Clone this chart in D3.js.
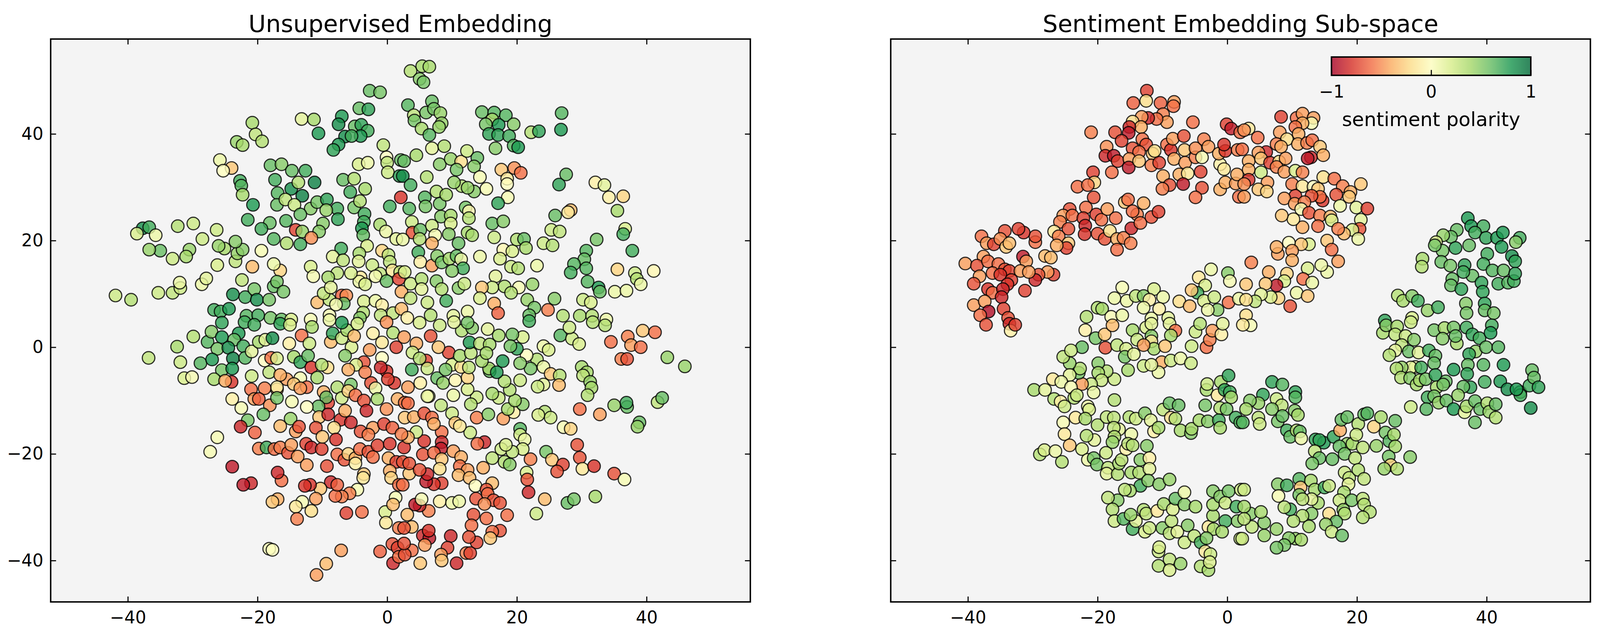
<!DOCTYPE html>
<html><head><meta charset="utf-8">
<script src="https://cdn.jsdelivr.net/npm/d3@7"></script>
<style>html,body{margin:0;padding:0;background:#fff;overflow:hidden;}svg{display:block;font-family:"DejaVu Sans",sans-serif;}</style>
</head><body><svg id="chart"></svg>
<script>
const titles = ["Unsupervised Embedding", "Sentiment Embedding Sub-space"];
const xTicks = [-40, -20, 0, 20, 40];
const yTicks = [-40, -20, 0, 20, 40];
const cbTicks = [-1, 0, 1];
const cbLabel = "sentiment polarity";
const rdYlGn = ["#a50026","#d73027","#f46d43","#fdae61","#fee08b","#ffffbf","#d9ef8b","#a6d96a","#66bd63","#1a9850","#006837"];

// [x, y, sentiment polarity]
const unsupervisedPoints = [
[-2.7,48.1,.6],[-1.1,47.8,.55],[-4.3,44.8,.6],[-2.9,44.6,.75],[-13.2,42.8,.15],[-11.3,42.7,.4],[-10.6,40.1,.8],[-7.0,43.3,.8],[-7.5,41.8,.85],[-5.0,41.4,.6],[-4.0,41.7,.75],[-3.0,40.6,.7],[-4.1,39.6,.8],[-6.5,39.5,.85],[-5.5,39.6,.7],[-7.5,38.0,.8],[-8.3,37.0,.75],[-20.8,42.1,.4],[-20.3,39.9,.3],[-19.3,38.6,.35],[-23.2,38.5,.45],[-22.3,37.9,.4],[-0.6,37.9,.3],[-0.1,35.6,0],[0,34.6,.3],[0.1,32.8,.25],[2.1,35.1,.6],[1.9,32.1,.75],[2.1,28.1,-.8],[-25.8,35.1,.1],[-24.0,33.6,-.3],[-25.3,33.1,0],[-18.0,34.1,.6],[-16.3,34.3,.5],[-14.7,33.1,.6],[-12.6,33.1,.7],[-17.3,31.4,.7],[-22.7,31.2,.7],[-22.5,30.3,.65],[-22.3,28.6,.4],[-20.7,26.7,.8],[-11.2,30.9,.9],[-14.8,29.7,.85],[-13.7,30.9,.35],[-13.1,28.4,.9],[-16.9,28.9,.65],[-17.0,26.7,.6],[-15.7,27.7,.3],[-14.3,26.7,.25],[-11.8,26.0,.5],[-10.8,27.2,.55],[-9.3,27.7,.75],[-7.7,26.0,.7],[-7.6,24.0,.75],[-9.4,25.7,.45],[-9.9,23.2,.5],[-10.5,21.7,.5],[-13.4,24.9,.6],[-15.6,23.7,.65],[-14.1,22.0,-.75],[-13.1,21.7,.45],[-11.7,20.5,-.5],[-13.4,19.3,.7],[-15.5,19.5,.35],[-17.5,20.3,.65],[-18.1,23.3,.6],[-19.4,22.2,.7],[-21.5,23.9,.7],[-6.8,31.4,.6],[-5.1,31.6,.35],[-4.4,34.3,.2],[-3.0,34.6,.1],[-3.4,29.7,.4],[-5.7,29.1,.7],[-5.1,26.2,.55],[-4.2,27.4,.35],[-3.5,25.0,.7],[-3.6,23.5,.7],[-3.9,22.3,.8],[-3.7,21.0,.6],[0.4,26.4,.7],[-1.1,23.0,.4],[-0.2,21.7,.1],[1.4,20.3,.15],[-3.1,19.0,.2],[-7.1,18.5,.7],[-8.4,17.0,.15],[-6.8,16.3,.3],[-4.3,17.6,.4],[-4.4,16.1,.15],[-0.8,18.1,-.25],[0.2,17.3,.3],[0.4,16.0,.3],[0.8,14.4,-.15],[2.0,14.1,.3],[-2.3,15.4,.25],[-1.1,13.8,.3],[-1.8,13.3,.05],[-0.1,12.4,.6],[1.8,12.8,-.75],[2.2,10.4,-.4],[-4.1,13.1,-.15],[-4.3,12.3,.1],[-3.4,11.8,.2],[-5.6,13.9,.2],[-7.7,13.9,.3],[-9.1,13.1,.4],[-11.8,15.1,.2],[-11.4,13.3,.05],[-16.5,14.4,-.25],[-17.5,15.6,.1],[-20.8,15.1,-.35],[-19.4,18.1,.05],[-22.4,12.6,.3],[-26.2,15.4,.2],[-23.4,16.1,.3],[-23.1,17.6,.45],[-22.3,18.3,.5],[-23.4,19.8,.5],[-25.1,18.5,.4],[-26.0,19.0,.45],[-26.3,22.0,.25],[-28.5,20.3,.25],[-30.5,18.3,.45],[-31.0,17.0,.4],[-33.1,16.6,.25],[-35.0,18.1,.6],[-36.7,18.3,.45],[-32.3,22.7,.35],[-29.9,23.2,.25],[-37.7,22.3,.85],[-36.7,22.5,.7],[-38.6,21.3,.2],[-35.7,21.0,.1],[-41.9,9.7,.25],[-39.5,8.9,.35],[-35.3,10.2,.25],[-33.1,10.2,.3],[-31.9,11.1,.25],[-32.0,12.1,.1],[-28.6,11.8,.1],[-27.9,12.9,.15],[-23.8,9.9,.85],[-21.9,9.4,.7],[-20.5,10.9,.55],[-20.1,8.9,.85],[-18.2,8.9,.55],[-17.5,11.4,.6],[-17.0,12.3,.55],[-16.0,10.4,.55],[-26.7,7.0,.7],[-25.7,6.7,.7],[-24.4,7.2,.8],[-21.7,5.9,.65],[-19.9,6.0,.7],[-18.0,5.5,.55],[-16.3,5.2,.6],[-14.8,5.2,.2],[-11.8,5.2,.05],[-10.8,8.4,-.35],[-8.9,6.0,.05],[-8.9,8.9,.3],[-9.8,10.1,.3],[-8.7,11.2,.15],[-7.0,9.7,-.65],[-6.3,9.7,-.5],[-6.7,8.2,.6],[-7.9,8.0,.05],[-3.6,8.6,.2],[-1.8,8.7,.1],[-0.8,7.9,-.1],[-3.7,6.5,.35],[-1.0,6.0,.3],[0.9,6.4,.3],[-4.2,5.5,.5],
[3.6,51.8,.35],[5.4,52.7,.4],[6.5,52.6,.4],[5.0,50.3,.5],[5.6,49.7,.55],[3.2,45.4,.65],[6.9,46.1,.6],[6.0,44.0,.55],[7.2,44.7,.55],[8.2,43.9,.45],[4.1,43.5,.3],[4.2,42.5,.55],[8.4,42.0,.45],[8.0,41.3,.45],[5.3,41.0,.4],[6.5,39.8,.65],[14.6,44.1,.6],[16.5,44.0,.65],[18.3,43.5,.65],[16.2,42.7,.4],[15.2,41.8,.55],[17.2,41.7,.8],[19.5,41.8,.5],[15.7,40.0,.75],[17.1,39.8,.75],[18.8,39.6,.7],[16.7,37.3,.5],[19.5,37.8,.65],[20.2,37.5,.8],[22.2,40.3,.35],[23.4,40.5,.75],[26.9,43.9,.65],[26.8,40.8,.8],[6.9,37.3,.15],[4.5,36.0,.4],[8.8,37.7,.35],[2.6,34.9,.6],[2.4,32.1,.85],[3.6,30.4,.7],[3.4,26.0,.65],[6.1,31.9,.35],[8.1,34.3,.5],[9.8,35.3,.45],[11.4,34.8,-.2],[12.3,36.8,.25],[13.9,35.5,.6],[13.4,33.9,.5],[10.7,33.3,.55],[14.3,31.9,.05],[15.3,29.7,.05],[11.5,30.2,.35],[13.4,29.2,.5],[12.4,29.9,.45],[10.3,30.9,.45],[17.6,33.3,-.3],[19.6,33.6,-.5],[20.6,32.7,-.6],[18.5,31.6,-.15],[18.5,30.6,0],[18.6,28.1,.05],[17.1,27.0,.75],[27.6,32.4,.6],[26.5,30.5,.75],[32.1,30.9,-.1],[33.5,30.4,.15],[34.2,28.1,-.1],[36.4,28.3,-.25],[35.5,25.6,.4],[28.3,25.7,-.35],[27.9,25.3,-.15],[25.9,24.7,.6],[5.8,28.1,.65],[5.9,26.4,.55],[7.6,29.2,.35],[8.1,26.9,.55],[9.1,28.6,.4],[8.3,24.5,.5],[9.8,24.7,.4],[9.8,23.2,.2],[12.1,26.2,.55],[12.6,25.5,-.05],[12.6,24.2,.35],[3.8,23.5,.25],[3.9,21.5,-.7],[5.1,22.0,.6],[6.9,22.8,.25],[7.4,21.0,.05],[2.4,20.2,.1],[5.0,20.3,.35],[6.9,19.5,-.4],[9.5,21.2,.5],[12.4,21.5,.4],[13.1,21.0,.4],[11.0,19.5,.6],[4.8,17.8,.7],[5.1,16.0,-.1],[6.9,15.3,-.45],[7.7,17.1,.5],[8.4,15.9,.55],[9.6,16.6,.4],[10.7,17.1,.6],[11.4,16.5,.1],[11.7,14.8,.7],[10.0,14.3,.5],[16.2,23.2,.6],[17.9,23.6,.5],[16.5,20.6,.25],[14.3,17.0,.1],[17.9,18.3,-.05],[17.4,16.6,.2],[19.3,18.0,.2],[20.0,20.2,.35],[21.1,20.3,.6],[21.4,18.6,.4],[24.1,19.5,.25],[25.5,19.1,.35],[25.3,22.0,.25],[26.6,21.7,.3],[23.1,15.3,.1],[19.1,15.1,.25],[20.2,14.8,.35],[16.7,13.3,.15],[22.4,11.8,.45],[20.3,11.2,.05],[18.1,11.4,.35],[16.2,11.2,.25],[14.6,11.2,-.3],[14.3,9.2,.2],[16.5,8.2,-.4],[17.1,6.4,-.65],[19.1,10.2,.35],[21.6,8.9,.45],[22.7,7.4,.55],[21.9,6.0,.6],[24.8,7.0,-.55],[25.8,9.1,.5],[27.1,5.9,.35],[29.7,5.9,.4],[31.6,5.9,.35],[33.8,5.2,.1],[30.2,8.9,.25],[31.4,8.4,.2],[32.6,11.2,.8],[32.8,10.4,.6],[30.9,12.3,.65],[30.7,18.1,.65],[30.4,16.5,.6],[30.7,14.8,.65],[28.8,15.6,.65],[28.3,14.0,.7],[32.3,20.2,.55],[36.7,22.2,.2],[36.4,21.2,.7],[37.8,18.1,.7],[35.5,14.6,-.25],[38.2,13.9,.25],[38.5,12.8,.35],[39.1,11.8,.1],[41.1,14.3,-.05],[35.1,10.4,.1],[36.9,10.6,.1],[2.7,14.1,.2],[3.6,11.9,.25],[5.3,12.8,.35],[5.3,10.9,.15],[7.6,12.4,.5],[8.4,10.9,.35],[11.0,11.1,.5],[11.9,11.9,.25],[9.1,8.7,.7],[6.2,8.4,.25],[3.6,9.2,.3],[2.2,7.2,-.35],[6.7,6.0,.35],[10.2,5.9,.15],[12.4,6.7,.1],[3.1,5.5,-.1],
[-36.8,-2.0,.3],[-32.4,0.1,.4],[-31.9,-2.8,.25],[-29.9,2.0,.35],[-31.3,-5.8,.2],[-30.1,-5.6,.05],[-28.8,-3.0,.65],[-27.7,1.0,.65],[-27.1,2.9,.5],[-25.5,1.9,.8],[-26.2,-0.3,.55],[-27.0,-2.3,.8],[-25.5,-4.3,.55],[-26.7,-6.0,.4],[-25.5,4.6,.75],[-22.9,2.6,.8],[-23.6,1.4,.6],[-24.5,-0.1,.85],[-23.8,-2.1,.9],[-23.9,-4.0,.8],[-22.2,0.2,.7],[-21.9,-2.0,.65],[-24.0,-6.5,-.8],[-25.0,-6.3,-.4],[-22.0,4.7,.7],[-20.5,4.2,.7],[-20.9,-0.8,.15],[-19.8,1.0,.4],[-18.8,1.4,.15],[-18.9,-2.5,0],[-17.7,1.7,.85],[-17.9,-2.0,-.6],[-18.2,-4.7,.3],[-20.9,-5.4,.25],[-17.0,-2.1,.2],[-16.5,4.4,.75],[-15.0,4.2,.2],[-15.1,0.7,-.1],[-14.4,-1.8,.4],[-13.4,-2.8,.75],[-13.2,2.2,-.6],[-12.0,0.7,.25],[-12.2,-1.6,.6],[-11.6,3.8,.4],[-11.7,-3.8,-.8],[-15.5,-6.0,-.45],[-16.5,-5.2,-.4],[-17.0,-7.9,-.4],[-13.4,-5.8,.05],[-14.4,-6.9,-.3],[-12.4,-7.5,-.6],[-13.4,-7.7,-.45],[-10.8,-5.7,.4],[-9.2,-3.8,-.2],[-10.1,-3.3,.35],[-8.7,1.0,-.35],[-8.4,2.6,.75],[-7.0,1.7,.25],[-6.2,3.2,.4],[-5.5,0.0,.2],[-6.5,-1.6,.5],[-5.1,2.1,-.35],[-7.0,4.6,.8],[-4.6,4.4,.2],[-8.9,5.1,.1],[-2.2,2.6,-.1],[-2.7,-0.5,-.45],[-0.8,0.9,-.15],[-0.1,4.7,-.5],[0.9,2.7,.35],[1.4,0.0,-.75],[-0.8,-2.0,0],[-0.1,-4.5,-.8],[-1.0,-3.8,-.85],[-3.6,-2.8,-.7],[-4.8,-3.3,.2],[-6.0,-4.2,-.4],[-3.4,-4.7,-.55],[-2.5,-6.7,-.7],[-1.8,-7.7,.1],[-1.5,-9.7,.4],[1.1,-6.7,-.8],[1.6,-9.7,-.4],[0.1,-6.0,-.75],[-7.7,-7.5,.35],[-7.0,-9.5,.25],[-5.6,-7.0,.55],[-6.0,-8.2,-.25],[-4.9,-9.0,-.6],[-3.6,-10.0,-.7],[-9.8,-8.4,-.4],[-9.1,-10.4,-.75],[-9.4,-9.4,.6],[-10.6,-11.1,.6],[-7.2,-13.6,-.8],[-6.5,-11.9,-.4],[-5.6,-14.1,-.85],[-4.1,-15.8,-.7],[-3.2,-11.9,-.85],[-2.2,-15.1,-.45],[-0.5,-14.4,-.75],[0.8,-15.1,-.65],[-0.1,-11.6,-.5],[-10.5,-13.1,-.3],[-9.1,-12.6,-.85],[-8.2,-15.1,-.2],[-11.0,-15.1,-.7],[-12.4,-11.2,0],[-14.7,-10.2,.05],[-14.9,-13.4,.45],[-14.1,-15.8,-.45],[-13.6,-14.9,-.7],[-16.5,-14.8,-.35],[-18.1,-10.9,-.5],[-19.1,-12.6,.6],[-17.0,-7.5,-.1],[-17.0,-9.5,.55],[-21.5,-13.7,.55],[-18.9,-7.7,-.55],[-21.0,-7.9,-.6],[-20.5,-9.7,-.45],[-19.8,-9.7,-.65],[-23.9,-9.7,-.1],[-22.5,-11.4,.05],[-22.6,-14.9,-.85],[-20.4,-16.0,-.65],[-26.2,-16.9,.05],[-27.3,-19.6,.05],[-19.8,-19.0,-.55],[-18.6,-18.8,.7],[-17.4,-19.1,-.6],[-16.5,-18.8,-.55],[-15.3,-19.8,-.7],[-14.8,-18.3,-.45],[-13.8,-20.5,-.45],[-12.5,-18.1,-.75],[-11.7,-18.8,-.85],[-10.1,-19.1,-.75],[-12.4,-22.1,-.45],[-9.3,-22.3,-.7],[-10.0,-16.8,-.3],[-7.9,-17.3,-.8],[-7.7,-20.1,-.6],[-6.6,-21.1,-.7],[-6.0,-20.0,-.25],[-4.9,-20.8,-.4],[-4.2,-19.1,-.6],[-4.9,-21.8,-.1],[-2.9,-19.6,-.7],[-2.2,-20.6,-.6],[-1.5,-18.4,-.75],[-2.9,-16.4,-.55],[0.4,-18.1,-.8],[0.2,-20.8,-.4],[1.4,-21.5,-.75],[-3.6,-23.8,-.3],[0.4,-23.2,-.4],[0.6,-24.5,-.25],[1.8,-25.8,-.6],[-3.7,-24.5,-.15],[-4.6,-26.7,.05],[-5.8,-27.4,-.55],[-7.0,-28.0,-.55],[-8.0,-27.9,-.6],[-8.7,-25.3,-.85],[-7.7,-25.8,-.65],[-10.3,-26.5,-.3],[-11.0,-28.4,-.45],[-11.9,-25.8,-.8],[-12.7,-26.0,-.8],[-13.1,-29.0,.05],[-14.1,-29.9,-.15],[-11.7,-30.7,-.2],[-13.9,-32.2,-.55],[-16.9,-28.5,-.4],[-17.7,-29.0,-.3],[-16.3,-25.0,-.6],[-16.9,-23.5,-.85],[-21.0,-25.5,-.85],[-22.2,-25.8,-.9],[-23.9,-22.4,-.9],[-6.3,-31.1,-.75],[-3.9,-30.9,-.6],[-0.3,-30.9,.2],[-0.2,-32.9,-.15],[1.3,-28.2,.05],[0.9,-29.5,-.35],[1.8,-33.9,-.55],[-18.2,-37.8,.05],[-17.7,-38.0,0],[-7.1,-38.1,-.45],[-9.4,-40.6,-.35],[-10.9,-42.7,-.45],[-1.1,-38.3,-.65],[0.9,-40.5,-.85],[0.8,-36.9,-.7],[1.6,-37.6,-.75],[1.8,-39.3,-.6],
[39.4,3.1,-.3],[41.3,2.8,-.6],[34.5,1.0,-.6],[37.1,2.0,-.55],[37.6,0.4,-.45],[39.1,0.0,-.6],[36.1,-2.2,-.55],[37.0,-2.2,-.7],[43.2,-1.9,.45],[45.9,-3.6,.45],[26.7,2.2,.65],[28.5,1.6,.25],[29.6,0.6,.2],[33.6,4.1,.35],[31.7,4.7,.35],[28.1,3.7,.25],[24.1,0.2,.1],[24.9,-0.5,.2],[23.1,-2.3,.35],[24.1,-3.7,.1],[22.1,-4.0,.55],[21.5,-1.5,0],[20.9,1.9,.2],[19.3,2.4,.55],[20.0,-0.3,.75],[17.8,-2.6,.8],[20.5,-3.0,.5],[25.2,-5.0,-.3],[26.6,-5.3,.35],[26.5,-7.1,-.35],[24.1,-7.0,.15],[23.2,-7.4,.25],[20.5,-6.2,.25],[30.0,-3.7,.4],[30.8,-4.7,.4],[30.2,-5.3,.3],[31.3,-6.5,.45],[31.5,-7.6,.4],[30.9,-9.0,.35],[29.7,-11.6,-.6],[32.8,-12.6,-.45],[35.0,-10.9,.45],[37.0,-11.2,.6],[36.9,-10.4,.7],[41.7,-10.3,.3],[42.4,-9.5,.6],[38.9,-14.1,.6],[38.6,-14.9,.45],[24.3,-12.1,.35],[25.2,-13.2,.25],[23.3,-12.7,.2],[27.2,-15.0,.05],[28.3,-15.3,-.25],[20.5,-15.3,.65],[20.5,-16.4,.2],[21.2,-17.3,.1],[20.9,-19.1,.2],[22.1,-21.0,-.55],[24.5,-19.6,.55],[25.4,-21.1,-.3],[27.1,-22.0,-.75],[26.2,-23.3,-.7],[29.3,-18.3,-.7],[29.7,-20.7,-.7],[30.1,-22.8,-.15],[31.9,-22.3,-.8],[35.0,-23.7,-.7],[36.6,-24.8,.05],[21.5,-23.5,.2],[21.6,-24.8,-.7],[21.8,-27.2,-.85],[24.3,-28.5,-.35],[27.8,-29.2,.6],[28.8,-28.5,.55],[32.1,-28.0,.4],[23.0,-31.2,.25],[16.2,-20.8,.3],[18.1,-21.5,.35],[18.9,-22.0,.5],[17.6,-19.1,.25],[19.3,-19.6,.3],[18.3,-18.3,.2],[15.0,-17.8,-.85],[13.9,-18.1,-.6],[14.8,-22.6,-.4],[16.2,-25.5,-.35],[12.8,-16.0,.25],[13.8,-13.2,-.55],[15.6,-12.6,.5],[17.9,-13.4,-.45],[19.5,-12.2,-.1],[18.6,-11.6,.4],[20.9,-10.7,.5],[19.7,-10.0,.4],[18.9,-8.0,.35],[17.2,-9.5,.25],[16.2,-8.7,.4],[18.1,-6.4,.35],[15.8,-4.5,.6],[15.7,-4.0,.4],[16.9,-4.7,.8],[14.6,-2.6,.4],[13.8,-9.4,.25],[12.9,-10.7,.35],[12.4,-7.9,.2],[10.2,-9.0,.1],[8.3,-10.9,.3],[6.4,-9.2,.05],[10.0,-12.4,.25],[10.5,-14.2,-.3],[11.2,-14.8,-.15],[8.4,-15.9,-.6],[8.4,-17.8,-.85],[8.3,-19.0,-.9],[5.7,-17.6,-.8],[4.5,-15.9,.25],[5.5,-20.1,-.7],[7.2,-19.8,-.6],[8.4,-21.0,-.3],[10.2,-19.5,-.45],[11.4,-20.6,-.4],[11.2,-22.3,-.6],[12.4,-23.0,-.45],[11.0,-24.0,-.35],[12.7,-24.5,-.35],[13.6,-26.0,0],[15.3,-26.7,-.7],[15.5,-27.5,-.6],[16.4,-28.7,-.7],[17.4,-29.2,-.7],[13.7,-28.4,-.7],[15.0,-29.4,-.5],[18.5,-31.5,-.6],[15.3,-32.1,-.6],[13.3,-31.4,-.7],[13.0,-33.4,-.6],[17.4,-34.4,-.7],[16.2,-34.6,-.6],[15.9,-35.8,-.3],[13.8,-36.6,-.75],[12.6,-35.6,-.7],[12.2,-38.6,-.55],[12.8,-38.6,-.75],[9.8,-35.4,-.85],[9.3,-37.6,-.75],[8.3,-38.9,-.45],[8.4,-40.0,-.3],[10.7,-40.5,-.85],[5.1,-40.5,-.3],[5.5,-35.3,-.85],[6.5,-35.8,-.9],[5.8,-37.1,-.45],[6.4,-34.4,-.8],[3.8,-38.1,-.6],[2.7,-38.9,-.7],[2.6,-36.8,-.7],[3.8,-33.7,-.35],[2.6,-33.9,-.7],[6.4,-30.7,-.55],[5.0,-29.7,-.85],[4.3,-29.5,-.9],[5.3,-28.5,.05],[3.1,-31.4,-.35],[8.1,-28.9,-.1],[10.0,-29.2,.1],[11.1,-28.9,.1],[8.4,-25.5,-.75],[7.2,-25.7,-.8],[6.0,-25.2,-.9],[6.2,-23.8,-.85],[8.1,-22.8,-.2],[3.4,-23.7,-.3],[2.4,-25.8,-.6],[2.4,-21.5,-.7],[3.4,-21.8,-.7],[5.0,-23.0,-.7],[2.6,-18.8,-.8],[3.2,-16.9,-.4],[2.2,-16.3,-.55],[2.7,-13.2,-.3],[4.1,-13.1,-.4],[5.7,-12.4,-.7],[6.9,-13.2,-.6],[7.2,-14.4,-.4],[2.7,-10.4,-.6],[3.2,-10.5,-.6],[6.2,-9.2,.1],[3.2,-7.5,-.45],[5.1,-6.7,-.1],[7.7,-5.8,.6],[8.6,-6.7,.45],[10.5,-6.2,-.05],[12.4,-5.7,-.25],[10.0,-3.3,.2],[9.0,-4.2,.55],[11.4,-3.7,-.2],[12.6,-3.8,.3],[3.8,-4.2,.7],[6.0,-2.5,-.75],[6.2,-4.0,.25],[9.5,-1.0,-.75],[7.9,0.0,-.3],[6.7,2.1,-.7],[4.5,0.7,-.4],[2.6,1.9,-.45],[3.9,-1.0,.25],[5.0,-2.1,.35],[11.2,-1.6,.4],[12.9,-1.1,.3],[12.7,0.9,.8],[14.3,0.7,.3],[15.8,0.5,.4],[11.5,3.1,.35],[13.1,3.6,.5],[15.5,3.4,.15],[17.2,2.2,.4],[19.0,0.2,.55],[15.3,-1.1,.4],[12.4,4.6,.55],[10.3,4.7,.15],[8.1,4.1,.25],[5.0,4.6,.2],[21.9,4.9,.7]
];

const sentimentPoints = [
[-12.4,48.1,-.75],[-12.5,46.2,-.2],[-14.5,45.8,-.65],[-10.3,45.8,-.65],[-8.2,46.0,-.45],[-8.3,45.2,-.6],[-9.9,43.7,-.55],[-9.3,42.2,-.45],[-10.9,42.8,-.6],[-12.2,43.0,-.85],[-13.2,43.2,-.45],[-14.6,42.3,-.2],[-13.3,41.3,-.4],[-15.1,41.3,-.85],[-15.2,40.2,-.9],[-17.3,40.3,-.7],[-16.3,38.7,-.75],[-13.1,39.0,-.6],[-12.5,38.0,-.7],[-14.6,37.3,-.7],[-13.6,36.6,-.6],[-18.6,37.6,-.5],[-18.8,35.9,-.85],[-17.5,35.9,-.9],[-16.9,34.9,-.75],[-15.1,35.3,-.45],[-15.2,33.7,-.9],[-13.6,34.9,-.3],[-17.8,32.8,-.6],[-21.0,40.3,-.55],[-11.5,36.3,-.3],[-11.7,34.1,-.55],[-10.5,34.6,-.75],[-11.2,36.8,-.2],[-9.3,38.0,-.6],[-8.7,37.0,-.8],[-8.4,39.1,-.45],[-6.7,39.6,-.7],[-6.6,37.0,-.3],[-8.2,35.3,-.4],[-6.5,34.6,-.45],[-4.9,35.6,-.55],[-4.9,37.3,-.5],[-3.6,39.0,-.55],[-2.9,37.6,-.45],[-3.9,35.6,.05],[-5.3,42.2,-.6],[-4.1,32.9,-.75],[-7.4,32.4,-.4],[-6.1,32.6,-.15],[-9.9,32.1,-.4],[-8.9,30.4,-.7],[-10.0,29.7,-.55],[-6.8,30.6,-.9],[-3.9,29.9,-.7],[-4.9,28.1,-.6],[-1.1,29.6,-.4],[-0.3,30.9,-.4],[1.3,30.7,-.45],[1.8,28.2,-.6],[1.5,32.4,-.4],[-1.1,34.3,-.1],[-0.5,33.4,-.15],[-1.3,36.3,-.4],[-0.3,36.8,-.8],[-0.1,41.8,-.75],[0.6,41.0,-.9],[2.0,40.3,-.6],[1.6,37.0,-.55],[-0.5,38.0,-.8],[-20.7,32.8,-.75],[-20.5,30.9,-.25],[-23.1,30.1,-.6],[-21.5,30.4,-.6],[-20.6,28.1,-.7],[-21.8,26.2,-.6],[-24.3,25.9,-.7],[-25.3,24.7,-.45],[-23.9,24.7,-.6],[-25.8,23.5,-.55],[-24.5,22.2,-.7],[-22.2,24.2,-.75],[-21.9,22.8,-.85],[-22.0,21.2,-.8],[-20.2,24.9,-.75],[-19.4,23.9,-.6],[-20.0,21.3,-.7],[-18.9,20.3,-.7],[-18.5,25.9,-.45],[-17.2,24.2,-.6],[-18.1,21.8,-.2],[-17.0,20.3,-.4],[-16.0,20.5,-.55],[-17.0,18.3,-.6],[-14.9,19.5,-.55],[-14.8,22.3,-.85],[-15.8,27.2,-.3],[-15.3,27.7,-.6],[-12.9,27.0,-.4],[-13.9,24.9,-.55],[-13.4,23.3,-.6],[-14.6,25.5,-.6],[-11.7,24.4,-.7],[-10.6,25.4,-.75],[-26.7,21.7,-.15],[-26.0,20.8,-.55],[-24.5,19.5,-.3],[-24.8,18.6,-.75],[-26.3,19.1,-.4],[-28.1,17.1,-.35],[-27.2,16.8,-.35],[-26.8,13.6,-.75],[-27.7,14.1,-.45],[-29.1,13.6,-.7],[-29.6,12.6,-.85],[-29.6,19.7,-.6],[-29.6,20.8,-.7],[-31.4,21.5,-.8],[-32.2,22.2,-.75],[-34.3,21.8,-.7],[-37.9,20.8,-.6],[-37.1,19.5,-.45],[-36.0,19.3,-.75],[-35.0,20.3,-.5],[-34.1,18.8,-.3],[-33.6,19.5,-.35],[-31.5,17.0,-.9],[-31.0,16.1,-.45],[-40.4,15.7,-.45],[-37.6,17.0,-.45],[-38.6,15.3,-.7],[-36.9,16.1,-.6],[-35.3,15.6,-.6],[-34.3,14.6,-.7],[-33.6,14.3,-.75],[-36.2,13.9,-.6],[-35.0,13.6,-.8],[-31.9,14.3,-.45],[-30.6,14.1,-.45],[-38.2,13.3,-.45],[-39.1,11.9,-.7],[-33.3,12.6,-.75],[-33.9,11.8,-.8],[-31.2,10.6,-.75],[-36.9,10.9,-.8],[-36.2,10.2,-.6],[-34.6,10.9,-.85],[-34.8,9.4,-.85],[-39.1,7.9,-.45],[-37.4,8.6,-.45],[-36.8,6.7,-.95],[-34.5,7.2,-.75],[-33.8,5.5,-.7],[-38.1,6.0,-.6],
[-2.5,14.6,.1],[0.1,13.9,.5],[0.4,12.4,.05],[-4.4,13.1,-.15],[-3.4,11.6,.2],[-4.6,10.2,.7],[-5.5,10.7,-.3],[-7.4,8.6,-.2],[-5.8,7.7,-.35],[-3.6,8.7,.2],[-2.0,9.4,.25],[-1.5,7.0,.5],[0.2,8.4,-.6],[1.8,9.1,.1],[-3.0,7.0,.1],[-16.2,11.2,.05],[-17.4,9.2,.1],[-15.5,8.7,.1],[-14.1,9.6,.3],[-12.9,9.6,.5],[-11.3,10.9,.2],[-12.0,8.9,-.1],[-9.9,9.4,.1],[-10.5,7.2,-.1],[-12.9,7.4,.1],[-20.0,7.4,.35],[-19.3,7.2,.4],[-17.9,5.7,.05],[-21.7,5.7,.35],[-16.2,6.0,.1],[-11.7,5.4,.1],[-9.1,5.5,.15],
[8.3,43.2,-.75],[10.7,43.0,-.6],[11.6,43.8,-.45],[13.3,43.0,-.45],[13.0,42.0,.05],[11.6,42.0,-.4],[10.5,41.3,-.6],[11.0,40.0,-.4],[8.1,40.3,-.45],[3.3,41.0,-.15],[2.6,40.7,-.5],[4.7,39.3,-.6],[9.2,39.0,-.2],[10.9,38.1,-.4],[12.3,38.3,-.55],[13.1,38.8,-.6],[14.3,37.6,-.3],[14.8,36.0,-.4],[12.9,35.6,-.85],[12.4,35.4,-.9],[7.6,38.1,-.55],[8.3,37.6,-.4],[6.0,36.6,-.85],[4.8,36.5,-.45],[3.3,34.9,-.4],[2.3,37.1,-.6],[5.2,35.4,-.3],[6.6,34.6,-.75],[8.0,34.8,-.2],[9.0,35.4,-.45],[7.6,33.8,-.55],[8.8,32.9,-.45],[10.5,33.1,.2],[11.6,32.8,-.55],[5.2,32.8,.25],[3.3,33.3,-.4],[3.3,31.4,-.8],[6.2,30.9,-.45],[4.8,29.6,-.3],[6.1,29.2,-.25],[2.6,30.6,-.5],[2.6,28.2,-.45],[10.0,30.6,-.55],[11.6,30.2,-.15],[13.3,30.1,0],[14.0,29.7,-.3],[14.8,31.9,-.2],[16.5,31.6,-.6],[17.8,30.2,-.55],[20.6,30.6,-.3],[16.8,28.6,-.7],[19.0,29.1,-.4],[18.8,28.2,-.3],[14.7,27.5,-.8],[14.3,28.2,-.6],[13.0,28.4,-.7],[10.5,28.4,-.75],[8.8,27.9,-.45],[10.4,26.9,-.45],[11.9,27.2,-.55],[11.4,25.9,.05],[12.6,25.2,-.7],[14.3,24.7,-.55],[15.9,24.5,-.35],[16.1,23.8,.2],[17.4,26.5,.1],[19.9,26.2,.15],[21.6,26.0,-.75],[20.6,23.9,.15],[20.4,22.2,-.7],[19.3,22.0,.2],[20.2,20.3,.1],[18.0,21.3,-.35],[17.1,22.2,-.55],[14.0,22.7,-.6],[11.6,22.5,-.4],[10.2,24.0,-.15],[8.4,24.7,-.3],[12.6,19.3,.2],[15.4,20.0,-.3],[16.1,18.3,-.6],[17.1,16.1,-.45],[15.4,14.1,.1],[14.5,15.4,.1],[12.4,14.8,.2],[11.7,12.8,-.6],[13.1,12.1,.1],[11.4,19.3,-.3],[9.5,19.6,0],[10.0,18.1,-.45],[10.0,16.3,-.4],[7.8,17.5,-.45],[7.6,18.8,-.4],[3.7,15.9,-.55],[6.4,14.1,-.4],[9.2,13.8,-.25],[8.8,12.4,.2],[7.6,11.6,-.9],[5.9,11.9,-.3],[2.9,11.8,-.3],[10.7,10.2,.1],[12.4,9.6,-.3],[7.9,9.2,-.25],[6.7,9.4,.2],[5.2,9.9,.15],[4.3,8.6,.3],[2.9,8.9,-.2],[9.7,7.7,-.7],[2.9,6.0,-.2],
[37.1,24.2,.8],[37.6,22.7,.8],[39.5,22.7,.7],[35.4,22.0,.6],[34.5,20.7,.6],[33.3,21.0,.45],[32.2,19.7,.2],[38.2,21.5,.7],[39.9,20.5,.75],[41.6,20.5,.8],[42.5,21.5,.8],[45.1,20.5,.7],[44.5,19.7,.5],[42.3,18.8,.8],[43.9,17.1,.85],[44.4,16.1,.75],[40.1,17.5,.7],[39.5,15.6,.7],[37.3,19.1,.6],[35.2,18.6,.75],[33.2,18.1,.55],[32.0,19.1,.55],[30.1,16.6,.4],[30.0,15.1,.35],[33.0,16.0,.6],[34.4,15.3,.55],[36.6,15.4,.75],[37.8,13.4,.6],[36.4,14.1,.7],[34.7,12.8,.6],[34.5,11.6,.6],[36.1,10.9,.75],[39.2,12.1,.75],[39.4,10.4,.75],[40.9,14.4,.65],[42.6,14.4,.6],[41.8,11.9,.7],[43.3,12.1,.65],[44.2,12.4,.7],[44.4,13.8,.75],[36.8,8.2,.5],[39.7,8.2,.75],[39.7,6.9,.6],[41.1,6.4,.55],[36.9,6.4,.55],[26.3,9.7,.35],[27.1,8.7,.4],[28.5,9.6,.5],[29.4,8.7,.7],[30.9,6.9,.45],[32.5,7.5,.7],[28.5,5.5,.2],[24.3,5.0,.75],
[-37.2,4.2,-.7],[-33.6,4.4,-.85],[-33.4,3.1,-.1],[-32.7,4.2,-.75],[-22.4,0.0,.6],[-21.9,3.2,-.1],[-20.3,1.7,.55],[-18.9,2.4,-.3],[-18.8,-0.1,-.7],[-17.7,4.1,-.35],[-17.0,0.4,.3],[-15.6,-0.3,.2],[-15.8,-1.8,.55],[-14.4,-1.3,.15],[-14.6,3.2,.4],[-13.9,1.4,.25],[-12.5,3.7,.2],[-11.7,4.4,.15],[-11.7,2.1,.5],[-11.7,1.1,-.15],[-11.3,-0.3,.4],[-12.9,0.4,-.45],[-8.9,4.4,.15],[-8.0,3.1,-.6],[-8.7,2.2,.4],[-9.6,0.2,-.3],[-10.1,-2.8,-.4],[-8.7,-2.5,.25],[-7.2,-2.1,.1],[-5.6,-3.0,.25],[-5.5,0.2,.25],[-4.9,2.9,.25],[-4.2,4.4,.35],[-3.2,0.0,-.6],[-2.7,1.4,-.55],[-2.3,3.1,-.45],[-0.9,2.4,-.1],[-0.7,4.4,.15],[-12.9,-3.5,.25],[-10.6,-4.7,.1],[-11.7,-3.3,.15],[-15.3,-4.3,.4],[-17.4,-6.0,.25],[-18.6,-4.5,.35],[-19.9,-3.0,.5],[-19.9,-4.8,.4],[-19.4,-6.2,.25],[-21.0,-6.9,.25],[-22.4,-6.9,-.45],[-20.6,-8.5,.1],[-22.9,-4.8,.55],[-22.7,-4.0,.35],[-24.3,-3.0,.45],[-25.3,-1.8,.3],[-24.1,-0.6,.25],[-24.3,-5.2,.15],[-26.9,-6.0,-.15],[-25.6,-6.5,.1],[-24.1,-7.5,.05],[-29.8,-8.0,.4],[-28.1,-8.0,.15],[-26.7,-9.7,.35],[-25.7,-10.2,-.1],[-25.1,-11.1,.25],[-23.6,-9.5,.35],[-23.2,-9.0,.25],[-21.5,-11.1,.1],[-21.3,-11.7,.2],[-17.4,-9.9,.35],[-25.3,-14.1,.05],[-23.4,-13.2,-.15],[-21.9,-13.4,.4],[-20.0,-14.6,.35],[-18.6,-13.1,.3],[-17.5,-13.2,.3],[-16.7,-15.4,.15],[-17.5,-15.1,.3],[-15.1,-13.1,.35],[-14.1,-13.4,.25],[-12.7,-12.4,.5],[-11.8,-13.7,.15],[-11.3,-15.8,-.1],[-10.6,-15.1,.4],[-14.8,-16.3,.1],[-9.9,-11.7,.3],[-8.9,-10.5,.6],[-7.5,-10.9,.6],[-8.7,-13.2,-.2],[-8.0,-13.4,.35],[-7.2,-15.6,.4],[-5.6,-16.1,.5],[-5.5,-15.3,.4],[-4.3,-13.7,.4],[-3.0,-13.9,.5],[-3.4,-10.9,.55],[-3.2,-8.0,.4],[-3.1,-6.9,.25],[-1.5,-9.0,-.15],[-1.1,-11.4,.35],[-1.3,-13.7,.7],[-1.1,-15.1,.4],[-1.0,-6.5,.4],[-0.4,-8.0,.75],[0.2,-5.3,.75],[0.4,-8.4,.7],[0.6,-9.4,.4],[-0.1,-11.6,.55],[1.3,-13.2,.7],[2.0,-14.1,.65],[-17.4,-16.8,.35],[-17.7,-17.8,.45],[-20.5,-17.4,.15],[-21.7,-16.6,.35],[-25.1,-16.3,-.15],[-24.3,-18.4,-.3],[-22.4,-19.1,.2],[-28.9,-20.1,.35],[-28.2,-19.3,.2],[-26.5,-19.5,.1],[-25.5,-21.5,.35],[-21.5,-21.1,.1],[-20.6,-20.8,.55],[-20.1,-22.0,.55],[-18.7,-19.8,.25],[-18.4,-22.6,.3],[-18.6,-23.7,.15],[-16.9,-23.8,.35],[-16.7,-21.8,.4],[-16.3,-21.1,.3],[-15.6,-19.1,-.1],[-15.3,-18.1,.3],[-14.6,-18.4,.35],[-14.8,-23.5,.4],[-13.6,-23.5,.35],[-13.4,-21.1,.5],[-12.4,-18.5,.5],[-12.0,-20.8,-.1],[-12.0,-22.8,.15],[-13.4,-26.0,.7],[-12.2,-25.0,.5],[-10.5,-25.7,.5],[-8.9,-24.8,.45],[-15.0,-26.9,.4],[-15.8,-26.7,.3],[-16.9,-28.7,.5],[-18.4,-28.2,.3],[-17.7,-30.4,.35],[-17.4,-32.6,.25],[-16.0,-32.2,.65],[-14.6,-34.1,.7],[-14.1,-32.6,.15],[-12.9,-30.5,.35],[-12.5,-31.2,.3],[-12.7,-34.6,.2],[-12.0,-33.9,.25],[-10.8,-30.7,-.15],[-9.8,-29.4,.4],[-10.0,-33.9,.5],[-8.9,-34.9,.3],[-8.6,-32.6,.3],[-8.4,-30.4,.2],[-8.0,-28.4,.6],[-7.7,-34.6,.15],[-6.6,-29.5,.5],[-6.6,-27.2,.1],[-6.1,-33.4,.5],[-6.6,-36.6,.25],[-5.1,-35.4,.3],[-4.9,-29.9,.4],[-4.1,-36.6,.7],[-3.4,-38.3,-.15],[-2.6,-38.8,.25],[-2.9,-33.7,-.15],[-2.1,-34.1,.4],[-3.2,-35.8,.5],[-2.2,-31.6,.4],[-2.2,-29.5,.4],[-2.2,-27.0,.5],[-1.1,-28.0,.5],[0.2,-27.0,.55],[-0.3,-29.2,.25],[-0.3,-32.6,.7],[-0.8,-34.6,.4],[1.4,-29.9,.7],[1.6,-32.6,.5],[2.0,-35.9,.25],[2.1,-26.7,.25],[-10.6,-38.3,.25],[-10.5,-37.5,.2],[-10.6,-41.0,.35],[-8.9,-39.8,.3],[-8.9,-41.8,.2],[-7.2,-40.6,.45],[-4.1,-41.1,.35],[-2.9,-41.8,.4],[-2.7,-40.3,.2],[-14.9,-31.4,.45],
[3.6,4.1,.05],[2.4,4.2,-.15],[24.0,2.7,.4],[24.5,4.1,.5],[26.2,3.9,.4],[28.3,4.7,.25],[25.9,2.4,.3],[27.5,2.1,.25],[28.8,1.4,.5],[26.9,0.4,.3],[25.9,-0.6,.15],[25.0,-1.5,.35],[28.0,-0.8,.6],[29.5,-1.0,.15],[31.1,-0.6,.7],[32.1,-1.6,.6],[31.9,-3.0,.6],[29.0,-3.7,.05],[28.3,-3.8,.15],[26.9,-3.8,.45],[26.1,-4.0,.35],[26.8,-5.7,.35],[28.2,-5.8,.5],[29.2,-7.0,.4],[29.9,-3.8,.7],[29.7,-6.2,.4],[30.6,-6.0,.55],[32.1,-5.2,.75],[33.7,-6.4,.6],[32.3,-7.5,.4],[30.9,-9.4,.7],[31.9,-9.2,.55],[32.6,-10.4,.45],[30.7,-11.6,.65],[28.3,-11.2,.25],[33.3,-7.0,.55],[33.8,-10.0,.6],[34.9,-4.2,.8],[31.9,3.2,.55],[33.5,3.6,.4],[33.2,1.6,.5],[34.9,3.7,.55],[35.4,0.7,.4],[35.2,2.1,.6],[36.9,3.7,.7],[37.8,2.4,.75],[38.3,-0.8,.45],[37.3,-1.3,.75],[38.9,1.7,.7],[40.8,4.1,.7],[40.6,2.7,.8],[39.9,0.0,.6],[41.8,0.0,.65],[39.5,-3.3,.65],[37.1,-3.3,.6],[37.0,-5.0,.75],[37.5,-7.5,.75],[36.4,-7.4,.6],[35.6,-9.0,.45],[34.9,-11.6,.8],[36.6,-12.2,.15],[36.9,-11.1,.4],[38.2,-10.1,.6],[39.0,-11.6,.6],[38.2,-14.1,.6],[40.1,-10.5,.35],[40.4,-12.1,.45],[41.4,-13.2,.35],[41.4,-10.7,.6],[39.7,-6.5,.7],[42.1,-6.4,.8],[43.2,-7.9,.85],[42.6,-3.3,.8],[45.2,-8.4,.65],[45.2,-9.0,.7],[46.6,-7.2,.7],[47.0,-4.3,.6],[47.3,-5.7,.6],[48.0,-7.5,.75],[46.8,-11.4,.85],[44.6,-7.9,.8],
[6.9,-6.5,.75],[8.5,-7.0,.65],[5.5,-8.9,.75],[7.6,-9.7,.25],[8.4,-10.9,.3],[10.5,-8.4,.75],[10.5,-9.4,.65],[4.8,-10.5,.45],[3.5,-10.0,.5],[2.9,-11.6,.4],[6.9,-11.6,.5],[4.8,-13.2,.3],[5.0,-14.4,.25],[7.8,-13.9,.55],[8.5,-12.9,.6],[10.4,-11.9,.5],[10.9,-12.7,.4],[2.4,-14.1,.65],[9.2,-15.6,.7],[9.7,-16.8,.6],[10.7,-15.6,.3],[11.2,-15.8,.6],[11.4,-17.1,.1],[13.6,-17.3,.75],[14.9,-17.9,.8],[14.2,-17.4,.75],[13.5,-19.5,.3],[14.2,-20.8,.6],[13.1,-21.8,.55],[16.2,-21.0,.6],[16.4,-16.8,.75],[17.4,-15.6,-.4],[17.6,-13.6,.6],[18.5,-13.1,.6],[18.5,-18.1,.45],[17.3,-18.6,.6],[18.1,-20.0,.55],[19.3,-18.1,.4],[20.2,-14.4,.35],[19.9,-16.4,.25],[21.1,-12.6,.6],[21.6,-12.4,.65],[22.6,-14.9,-.25],[23.7,-13.1,.4],[24.4,-16.0,.55],[25.0,-17.6,.65],[25.9,-13.8,.6],[25.7,-16.4,.4],[25.9,-18.6,.4],[23.0,-18.5,.45],[20.9,-18.8,.3],[19.7,-20.8,.3],[24.9,-20.5,.55],[25.2,-22.1,-.25],[24.2,-22.8,.45],[26.2,-22.8,.35],[28.2,-20.6,.5],[18.1,-23.5,.25],[18.8,-24.5,.3],[20.2,-23.0,.35],[21.1,-24.7,.3],[18.7,-25.7,.15],
[2.6,-26.7,.25],[7.8,-25.7,.5],[9.2,-25.9,.7],[7.9,-27.9,.05],[11.1,-24.7,.65],[11.3,-26.3,-.3],[11.1,-27.7,.55],[12.9,-25.0,.4],[13.5,-26.7,.4],[15.0,-26.3,.7],[15.7,-26.0,.25],[18.0,-27.2,.4],[17.3,-28.7,.25],[19.2,-28.7,.55],[20.9,-28.4,.3],[21.1,-29.5,.35],[22.0,-30.9,.35],[20.9,-31.9,.35],[17.9,-30.5,.45],[18.1,-31.2,.35],[15.7,-31.2,-.2],[14.0,-29.2,.4],[13.0,-28.5,.15],[11.6,-28.5,.3],[13.0,-31.2,.5],[11.6,-31.6,.35],[16.8,-32.7,.6],[15.2,-33.2,.45],[12.6,-33.6,.4],[10.2,-32.6,.35],[9.7,-30.4,.7],[8.8,-30.0,.3],[16.1,-34.6,.25],[17.7,-35.3,.6],[10.5,-35.9,.45],[11.4,-36.1,.4],[9.5,-35.8,.5],[8.8,-37.1,.55],[7.6,-37.6,.55],[7.6,-34.1,.45],[5.7,-32.9,.5],[5.7,-35.3,.45],[3.8,-33.7,.3],[3.6,-31.2,.5],[5.2,-30.9,.4],[2.6,-29.9,.4],[2.6,-32.2,.3],[2.3,-35.9,.25]
];

// ---- layout: reference is 4832x1637; adapt proportionally to the actual window ----
const REF_W = 4832, REF_H = 1637;
const W = window.innerWidth || REF_W, H = window.innerHeight || REF_H;
const sx = W / REF_W, sy = H / REF_H, s = Math.sqrt(sx * sy);
const X = v => v * sx, Y = v => v * sy;

const svg = d3.select("#chart").attr("width", W).attr("height", H);
svg.append("rect").attr("width", W).attr("height", H).attr("fill", "#ffffff");

const axTop = Y(100), axBottom = Y(1542), axW = X(2113);
const xDomain = [-51.9, 56.0], yDomain = [-47.76, 57.79];
const color = d3.scaleLinear()
  .domain(d3.range(rdYlGn.length).map(i => -1 + 2 * i / (rdYlGn.length - 1)))
  .range(rdYlGn).clamp(true);

const panels = [
  {left: X(153), data: unsupervisedPoints, title: titles[0], yLabels: true},
  {left: X(2690), data: sentimentPoints, title: titles[1], yLabels: false}
];

const tickFont = 48 * s, tickLen = 15 * s;
function styleAxis(g) {
  g.select(".domain").remove();
  g.selectAll(".tick line").attr("stroke", "#000").attr("stroke-width", 3 * s);
  g.selectAll(".tick text").attr("fill", "#000").attr("font-size", tickFont).attr("font-family", "DejaVu Sans");
  g.attr("font-family", "DejaVu Sans").attr("font-size", tickFont);
}

panels.forEach((p, i) => {
  const x = d3.scaleLinear().domain(xDomain).range([p.left, p.left + axW]);
  const y = d3.scaleLinear().domain(yDomain).range([axBottom, axTop]);
  const g = svg.append("g");
  g.append("rect").attr("x", p.left).attr("y", axTop).attr("width", axW).attr("height", axBottom - axTop).attr("fill", "#f4f4f4");
  const clipId = "clip" + i;
  svg.append("clipPath").attr("id", clipId).append("rect")
    .attr("x", p.left).attr("y", axTop).attr("width", axW).attr("height", axBottom - axTop);
  g.append("g").attr("clip-path", `url(#${clipId})`)
    .selectAll("circle").data(p.data).join("circle")
    .attr("cx", d => x(d[0])).attr("cy", d => y(d[1])).attr("r", 17.5 * s)
    .attr("fill", d => color(d[2])).attr("fill-opacity", 0.8)
    .attr("stroke", "#000").attr("stroke-opacity", 0.8).attr("stroke-width", 3.2 * s);

  g.append("g").attr("transform", `translate(0,${axBottom})`)
    .call(d3.axisBottom(x).tickValues(xTicks).tickSize(-tickLen).tickPadding(Y(55) - 0.71 * tickFont)).call(styleAxis);
  g.append("g").attr("transform", `translate(0,${axTop})`)
    .call(d3.axisTop(x).tickValues(xTicks).tickSize(-tickLen).tickFormat(() => "")).call(styleAxis);
  g.append("g").attr("transform", `translate(${p.left},0)`)
    .call(d3.axisLeft(y).tickValues(yTicks).tickSize(-tickLen).tickPadding(X(22))
      .tickFormat(p.yLabels ? d3.format("") : () => "")).call(styleAxis);
  g.append("g").attr("transform", `translate(${p.left + axW},0)`)
    .call(d3.axisRight(y).tickValues(yTicks).tickSize(-tickLen).tickFormat(() => "")).call(styleAxis);

  g.append("rect").attr("x", p.left).attr("y", axTop).attr("width", axW).attr("height", axBottom - axTop)
    .attr("fill", "none").attr("stroke", "#000").attr("stroke-width", 4 * s);

  g.append("text").attr("x", p.left + axW / 2).attr("y", Y(82)).attr("text-anchor", "middle")
    .attr("font-family", "DejaVu Sans").attr("font-size", 66 * s).attr("fill", "#000").text(p.title);
});

// colorbar
const cbX0 = X(4021), cbX1 = X(4623), cbY0 = Y(146), cbY1 = Y(193);
const cb = d3.scaleLinear().domain([-1, 1]).range([cbX0, cbX1]);
const defs = svg.append("defs");
const grad = defs.append("linearGradient").attr("id", "cbgrad").attr("x1", "0%").attr("x2", "100%").attr("y1", "0%").attr("y2", "0%");
d3.range(0, 101).forEach(k => {
  const t = k / 100;
  grad.append("stop").attr("offset", (t * 100) + "%").attr("stop-color", color(-1 + 2 * t)).attr("stop-opacity", 0.8);
});
svg.append("rect").attr("x", cbX0).attr("y", cbY0).attr("width", cbX1 - cbX0).attr("height", cbY1 - cbY0).attr("fill", "url(#cbgrad)");
svg.append("g").attr("transform", `translate(0,${cbY1})`)
  .call(d3.axisBottom(cb).tickValues(cbTicks).tickSize(-tickLen).tickPadding(Y(57) - 0.71 * tickFont).tickFormat(d3.format("")))
  .call(styleAxis);
svg.append("rect").attr("x", cbX0).attr("y", cbY0).attr("width", cbX1 - cbX0).attr("height", cbY1 - cbY0)
  .attr("fill", "none").attr("stroke", "#000").attr("stroke-width", 4 * s);
svg.append("text").attr("x", (cbX0 + cbX1) / 2).attr("y", Y(323)).attr("text-anchor", "middle")
  .attr("font-family", "DejaVu Sans").attr("font-size", 54 * s).attr("fill", "#000").text(cbLabel);
</script>
</body></html>
